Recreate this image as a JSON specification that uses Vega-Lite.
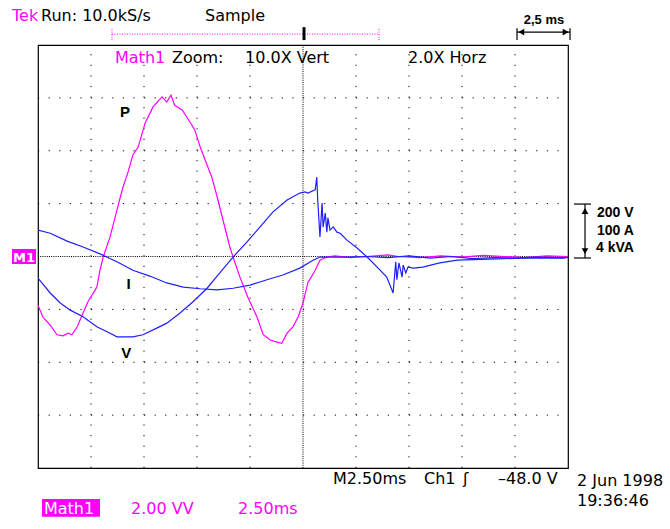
{
  "$schema": "https://vega.github.io/schema/vega-lite/v6.json",
  "width": 530,
  "height": 423,
  "autosize": {"type": "none"},
  "padding": {"left": 38, "top": 45, "right": 102, "bottom": 61},
  "background": "#ffffff",
  "config": {"view": {"stroke": "#000000", "strokeWidth": 1.2}},
  "datasets": {
    "traces": [
      {"series":"P","x":-5.0,"y":-0.92},{"series":"P","x":-4.91,"y":-1.14},{"series":"P","x":-4.77,"y":-1.30},{"series":"P","x":-4.64,"y":-1.48},{"series":"P","x":-4.53,"y":-1.50},{"series":"P","x":-4.43,"y":-1.45},{"series":"P","x":-4.36,"y":-1.48},{"series":"P","x":-4.26,"y":-1.33},{"series":"P","x":-4.15,"y":-1.07},{"series":"P","x":-4.06,"y":-0.86},{"series":"P","x":-3.89,"y":-0.58},{"series":"P","x":-3.83,"y":-0.26},{"series":"P","x":-3.77,"y":-0.01},{"series":"P","x":-3.64,"y":0.37},{"series":"P","x":-3.51,"y":0.88},{"series":"P","x":-3.40,"y":1.30},{"series":"P","x":-3.30,"y":1.60},{"series":"P","x":-3.21,"y":1.92},{"series":"P","x":-3.11,"y":2.07},{"series":"P","x":-2.98,"y":2.52},{"series":"P","x":-2.83,"y":2.83},{"series":"P","x":-2.66,"y":3.02},{"series":"P","x":-2.57,"y":2.92},{"series":"P","x":-2.49,"y":3.05},{"series":"P","x":-2.42,"y":2.86},{"series":"P","x":-2.28,"y":2.77},{"series":"P","x":-2.13,"y":2.54},{"series":"P","x":-2.04,"y":2.39},{"series":"P","x":-1.94,"y":2.07},{"series":"P","x":-1.81,"y":1.73},{"series":"P","x":-1.72,"y":1.50},{"series":"P","x":-1.62,"y":1.13},{"series":"P","x":-1.51,"y":0.69},{"series":"P","x":-1.38,"y":0.18},{"series":"P","x":-1.32,"y":-0.01},{"series":"P","x":-1.19,"y":-0.39},{"series":"P","x":-1.04,"y":-0.77},{"series":"P","x":-0.87,"y":-1.14},{"series":"P","x":-0.75,"y":-1.48},{"series":"P","x":-0.62,"y":-1.58},{"series":"P","x":-0.49,"y":-1.62},{"series":"P","x":-0.40,"y":-1.64},{"series":"P","x":-0.30,"y":-1.45},{"series":"P","x":-0.19,"y":-1.33},{"series":"P","x":-0.09,"y":-1.14},{"series":"P","x":0.0,"y":-0.88},{"series":"P","x":0.09,"y":-0.50},{"series":"P","x":0.23,"y":-0.26},{"series":"P","x":0.32,"y":-0.07},{"series":"P","x":0.45,"y":-0.01},{"series":"P","x":0.6,"y":0.01},{"series":"P","x":0.9,"y":-0.02},{"series":"P","x":1.2,"y":0.0},{"series":"P","x":1.6,"y":0.03},{"series":"P","x":1.8,"y":0.0},{"series":"P","x":2.2,"y":-0.02},{"series":"P","x":2.6,"y":0.01},{"series":"P","x":3.0,"y":-0.01},{"series":"P","x":3.4,"y":0.02},{"series":"P","x":3.8,"y":0.0},{"series":"P","x":4.2,"y":-0.02},{"series":"P","x":4.6,"y":0.01},{"series":"P","x":5.0,"y":0.0},
      {"series":"V","x":-5.0,"y":-0.41},{"series":"V","x":-4.77,"y":-0.69},{"series":"V","x":-4.58,"y":-0.88},{"series":"V","x":-4.40,"y":-1.01},{"series":"V","x":-4.15,"y":-1.14},{"series":"V","x":-3.89,"y":-1.33},{"series":"V","x":-3.64,"y":-1.45},{"series":"V","x":-3.51,"y":-1.52},{"series":"V","x":-3.21,"y":-1.52},{"series":"V","x":-3.02,"y":-1.48},{"series":"V","x":-2.75,"y":-1.35},{"series":"V","x":-2.57,"y":-1.26},{"series":"V","x":-2.32,"y":-1.07},{"series":"V","x":-2.08,"y":-0.86},{"series":"V","x":-1.81,"y":-0.60},{"series":"V","x":-1.57,"y":-0.31},{"series":"V","x":-1.32,"y":-0.01},{"series":"V","x":-1.06,"y":0.27},{"series":"V","x":-0.81,"y":0.56},{"series":"V","x":-0.57,"y":0.84},{"series":"V","x":-0.30,"y":1.07},{"series":"V","x":-0.06,"y":1.20},{"series":"V","x":0.04,"y":1.22},{"series":"V","x":0.09,"y":1.20},{"series":"V","x":0.23,"y":1.26},{"series":"V","x":0.26,"y":1.50},{"series":"V","x":0.28,"y":1.03},{"series":"V","x":0.32,"y":0.37},{"series":"V","x":0.36,"y":1.01},{"series":"V","x":0.38,"y":0.56},{"series":"V","x":0.42,"y":0.82},{"series":"V","x":0.45,"y":0.46},{"series":"V","x":0.47,"y":0.73},{"series":"V","x":0.51,"y":0.50},{"series":"V","x":0.57,"y":0.56},{"series":"V","x":0.64,"y":0.46},{"series":"V","x":0.70,"y":0.44},{"series":"V","x":0.83,"y":0.31},{"series":"V","x":1.02,"y":0.16},{"series":"V","x":1.21,"y":-0.01},{"series":"V","x":1.40,"y":-0.20},{"series":"V","x":1.58,"y":-0.39},{"series":"V","x":1.70,"y":-0.69},{"series":"V","x":1.75,"y":-0.10},{"series":"V","x":1.77,"y":-0.44},{"series":"V","x":1.81,"y":-0.12},{"series":"V","x":1.87,"y":-0.39},{"series":"V","x":1.89,"y":-0.16},{"series":"V","x":1.94,"y":-0.31},{"series":"V","x":1.98,"y":-0.20},{"series":"V","x":2.08,"y":-0.22},{"series":"V","x":2.26,"y":-0.20},{"series":"V","x":2.58,"y":-0.12},{"series":"V","x":2.91,"y":-0.07},{"series":"V","x":3.53,"y":-0.05},{"series":"V","x":4.15,"y":-0.03},{"series":"V","x":4.94,"y":-0.03},
      {"series":"I","x":-5.0,"y":0.50},{"series":"I","x":-4.77,"y":0.44},{"series":"I","x":-4.45,"y":0.29},{"series":"I","x":-4.15,"y":0.18},{"series":"I","x":-3.83,"y":0.05},{"series":"I","x":-3.51,"y":-0.10},{"series":"I","x":-3.21,"y":-0.26},{"series":"I","x":-2.89,"y":-0.37},{"series":"I","x":-2.57,"y":-0.50},{"series":"I","x":-2.26,"y":-0.58},{"series":"I","x":-1.94,"y":-0.61},{"series":"I","x":-1.62,"y":-0.63},{"series":"I","x":-1.32,"y":-0.60},{"series":"I","x":-1.0,"y":-0.54},{"series":"I","x":-0.68,"y":-0.44},{"series":"I","x":-0.38,"y":-0.35},{"series":"I","x":-0.06,"y":-0.22},{"series":"I","x":0.19,"y":-0.07},{"series":"I","x":0.32,"y":-0.01},{"series":"I","x":0.45,"y":-0.01},{"series":"I","x":0.8,"y":-0.01},{"series":"I","x":1.2,"y":0.0},{"series":"I","x":1.6,"y":-0.02},{"series":"I","x":2.0,"y":0.01},{"series":"I","x":2.4,"y":-0.03},{"series":"I","x":2.8,"y":0.0},{"series":"I","x":3.2,"y":-0.04},{"series":"I","x":3.6,"y":-0.02},{"series":"I","x":4.0,"y":-0.03},{"series":"I","x":4.4,"y":-0.01},{"series":"I","x":4.8,"y":-0.02},{"series":"I","x":5.0,"y":-0.02}
    ],
    "xminor": [{"x":-5},{"x":-4.8},{"x":-4.6},{"x":-4.4},{"x":-4.2},{"x":-4},{"x":-3.8},{"x":-3.6},{"x":-3.4},{"x":-3.2},{"x":-3},{"x":-2.8},{"x":-2.6},{"x":-2.4},{"x":-2.2},{"x":-2},{"x":-1.8},{"x":-1.6},{"x":-1.4},{"x":-1.2},{"x":-1},{"x":-0.8},{"x":-0.6},{"x":-0.4},{"x":-0.2},{"x":0},{"x":0.2},{"x":0.4},{"x":0.6},{"x":0.8},{"x":1},{"x":1.2},{"x":1.4},{"x":1.6},{"x":1.8},{"x":2},{"x":2.2},{"x":2.4},{"x":2.6},{"x":2.8},{"x":3},{"x":3.2},{"x":3.4},{"x":3.6},{"x":3.8},{"x":4},{"x":4.2},{"x":4.4},{"x":4.6},{"x":4.8},{"x":5}],
    "yminor": [{"y":-4},{"y":-3.8},{"y":-3.6},{"y":-3.4},{"y":-3.2},{"y":-3},{"y":-2.8},{"y":-2.6},{"y":-2.4},{"y":-2.2},{"y":-2},{"y":-1.8},{"y":-1.6},{"y":-1.4},{"y":-1.2},{"y":-1},{"y":-0.8},{"y":-0.6},{"y":-0.4},{"y":-0.2},{"y":0},{"y":0.2},{"y":0.4},{"y":0.6},{"y":0.8},{"y":1},{"y":1.2},{"y":1.4},{"y":1.6},{"y":1.8},{"y":2},{"y":2.2},{"y":2.4},{"y":2.6},{"y":2.8},{"y":3},{"y":3.2},{"y":3.4},{"y":3.6},{"y":3.8},{"y":4}]
  },
  "encoding": {
    "x": {"field": "x", "type": "quantitative", "scale": {"domain": [-5, 5], "nice": false, "zero": false}, "axis": null},
    "y": {"field": "y", "type": "quantitative", "scale": {"domain": [-4, 4], "nice": false, "zero": false}, "axis": null}
  },
  "layer": [
    {
      "data": {"values": [{"x":-4,"y":-4,"y2":4},{"x":-3,"y":-4,"y2":4},{"x":-2,"y":-4,"y2":4},{"x":-1,"y":-4,"y2":4},{"x":1,"y":-4,"y2":4},{"x":2,"y":-4,"y2":4},{"x":3,"y":-4,"y2":4},{"x":4,"y":-4,"y2":4}]},
      "mark": {"type": "rule", "color": "#000000", "strokeWidth": 1, "strokeDash": [1.2, 9.38]},
      "encoding": {"y2": {"field": "y2"}}
    },
    {
      "data": {"values": [{"y":-3,"x":-5,"x2":5},{"y":-2,"x":-5,"x2":5},{"y":-1,"x":-5,"x2":5},{"y":1,"x":-5,"x2":5},{"y":2,"x":-5,"x2":5},{"y":3,"x":-5,"x2":5}]},
      "mark": {"type": "rule", "color": "#000000", "strokeWidth": 1, "strokeDash": [1.2, 9.4]},
      "encoding": {"x2": {"field": "x2"}}
    },
    {
      "data": {"values": [{"x":0,"y":-4,"y2":4}]},
      "mark": {"type": "rule", "color": "#000000", "strokeWidth": 1, "strokeDash": [1, 1.2]},
      "encoding": {"y2": {"field": "y2"}}
    },
    {
      "data": {"values": [{"y":0,"x":-5,"x2":5}]},
      "mark": {"type": "rule", "color": "#000000", "strokeWidth": 1, "strokeDash": [1, 1.2]},
      "encoding": {"x2": {"field": "x2"}}
    },
    {
      "data": {"name": "xminor"},
      "mark": {"type": "tick", "orient": "vertical", "color": "#000000", "size": 7, "thickness": 1, "opacity": 1},
      "encoding": {"y": {"datum": 0, "type": "quantitative"}}
    },
    {
      "data": {"name": "yminor"},
      "mark": {"type": "tick", "orient": "horizontal", "color": "#000000", "size": 7, "thickness": 1, "opacity": 1},
      "encoding": {"x": {"datum": 0, "type": "quantitative"}}
    },
    {
      "data": {"name": "xminor"},
      "mark": {"type": "tick", "orient": "vertical", "color": "#000000", "size": 6, "thickness": 1, "opacity": 1, "clip": true},
      "encoding": {"y": {"datum": 4, "type": "quantitative"}}
    },
    {
      "data": {"name": "xminor"},
      "mark": {"type": "tick", "orient": "vertical", "color": "#000000", "size": 6, "thickness": 1, "opacity": 1, "clip": true},
      "encoding": {"y": {"datum": -4, "type": "quantitative"}}
    },
    {
      "data": {"name": "yminor"},
      "mark": {"type": "tick", "orient": "horizontal", "color": "#000000", "size": 6, "thickness": 1, "opacity": 1, "clip": true},
      "encoding": {"x": {"datum": -5, "type": "quantitative"}}
    },
    {
      "data": {"name": "yminor"},
      "mark": {"type": "tick", "orient": "horizontal", "color": "#000000", "size": 6, "thickness": 1, "opacity": 1, "clip": true},
      "encoding": {"x": {"datum": 5, "type": "quantitative"}}
    },
    {
      "data": {"name": "traces"},
      "mark": {"type": "line", "strokeWidth": 1.2, "clip": true},
      "encoding": {
        "color": {"field": "series", "type": "nominal", "scale": {"domain": ["V", "I", "P"], "range": ["#1f1fff", "#1f1fff", "#ff00ff"]}, "legend": null},
        "order": {"field": "x", "type": "quantitative"}
      }
    },
    {
      "data": {"values": [{"x":-4.925,"x2":-3.830,"y":-4.584,"y2":-4.924},{"x":-5.491,"x2":-5.038,"y":0.142,"y2":-0.142}]},
      "mark": {"type": "rect", "color": "#ff00ff"},
      "encoding": {"x2": {"field": "x2"}, "y2": {"field": "y2"}}
    },
    {
      "data": {"values": [{"x":4.038,"y":4.093,"y2":4.319},{"x":5.038,"y":4.093,"y2":4.319},{"x":5.321,"y":-0.028,"y2":0.992}]},
      "mark": {"type": "rule", "color": "#000000", "strokeWidth": 1.2},
      "encoding": {"y2": {"field": "y2"}}
    },
    {
      "data": {"values": [{"y":4.244,"x":4.038,"x2":5.038},{"y":0.992,"x":5.113,"x2":5.434},{"y":-0.028,"x":5.113,"x2":5.434}]},
      "mark": {"type": "rule", "color": "#000000", "strokeWidth": 1.2},
      "encoding": {"x2": {"field": "x2"}}
    },
    {
      "data": {"values": [{"y":4.206,"x":-3.604,"x2":1.434}]},
      "mark": {"type": "rule", "color": "#ff00ff", "strokeWidth": 1, "strokeDash": [1, 1.5]},
      "encoding": {"x2": {"field": "x2"}}
    },
    {
      "data": {"values": [{"x":-3.604,"y":4.093,"y2":4.319},{"x":1.434,"y":4.093,"y2":4.319}]},
      "mark": {"type": "rule", "color": "#ff00ff", "strokeWidth": 1, "strokeDash": [1, 1.5]},
      "encoding": {"y2": {"field": "y2"}}
    },
    {
      "data": {"values": [{"x":0.019,"y":4.093,"y2":4.338}]},
      "mark": {"type": "rule", "color": "#000000", "strokeWidth": 3},
      "encoding": {"y2": {"field": "y2"}}
    },
    {
      "data": {"values": [{"x":4.12,"y":4.244,"dir":"left"},{"x":4.955,"y":4.244,"dir":"right"},{"x":5.321,"y":0.86,"dir":"up"},{"x":5.321,"y":0.10,"dir":"down"}]},
      "mark": {"type": "point", "filled": true, "color": "#000000", "size": 45, "opacity": 1},
      "encoding": {"shape": {"field": "dir", "type": "nominal", "scale": {"domain": ["left", "right", "up", "down"], "range": ["triangle-left", "triangle-right", "triangle-up", "triangle-down"]}, "legend": null}}
    },
    {
      "data": {"values": [{"x":-4.943,"y":4.452,"text":"Run: 10.0kS/s"},{"x":-1.849,"y":4.452,"text":"Sample"},{"x":-2.472,"y":3.658,"text":"Zoom:"},{"x":-1.094,"y":3.658,"text":"10.0X Vert"},{"x":1.981,"y":3.658,"text":"2.0X Horz"},{"x":0.566,"y":-4.301,"text":"M2.50ms"},{"x":2.283,"y":-4.301,"text":"Ch1"},{"x":3.019,"y":-4.301,"text":"ʃ"},{"x":3.679,"y":-4.301,"text":"–48.0 V"},{"x":5.170,"y":-4.338,"text":"2 Jun 1998"},{"x":5.170,"y":-4.716,"text":"19:36:46"}]},
      "mark": {"type": "text", "font": "DejaVu Sans", "fontSize": 16, "color": "#000000", "align": "left", "baseline": "alphabetic"},
      "encoding": {"text": {"field": "text"}}
    },
    {
      "data": {"values": [{"x":-5.491,"y":4.452,"text":"Tek"},{"x":-3.547,"y":3.658,"text":"Math1"},{"x":-3.245,"y":-4.868,"text":"2.00 VV"},{"x":-1.226,"y":-4.868,"text":"2.50ms"}]},
      "mark": {"type": "text", "font": "DejaVu Sans", "fontSize": 16, "color": "#ff00ff", "align": "left", "baseline": "alphabetic"},
      "encoding": {"text": {"field": "text"}}
    },
    {
      "data": {"values": [{"x":-4.887,"y":-4.868,"text":"Math1"}]},
      "mark": {"type": "text", "font": "DejaVu Sans", "fontSize": 16, "color": "#ffffff", "align": "left", "baseline": "alphabetic"},
      "encoding": {"text": {"field": "text"}}
    },
    {
      "data": {"values": [{"x":-5.47,"y":-0.10,"text":"M1"}]},
      "mark": {"type": "text", "font": "DejaVu Sans", "fontSize": 13, "fontWeight": "bold", "color": "#ffffff", "align": "left", "baseline": "alphabetic"},
      "encoding": {"text": {"field": "text"}}
    },
    {
      "data": {"values": [{"x":-3.453,"y":2.637,"text":"P"},{"x":-3.33,"y":-0.614,"text":"I"},{"x":-3.43,"y":-1.919,"text":"V"}]},
      "mark": {"type": "text", "font": "Liberation Sans", "fontSize": 15, "fontWeight": "bold", "color": "#000000", "align": "left", "baseline": "alphabetic"},
      "encoding": {"text": {"field": "text"}}
    },
    {
      "data": {"values": [{"x":5.547,"y":0.747,"text":"200 V"},{"x":5.547,"y":0.406,"text":"100 A"},{"x":5.530,"y":0.085,"text":"4 kVA"}]},
      "mark": {"type": "text", "font": "Liberation Sans", "fontSize": 14, "fontWeight": "bold", "color": "#000000", "align": "left", "baseline": "alphabetic"},
      "encoding": {"text": {"field": "text"}}
    },
    {
      "data": {"values": [{"x":4.547,"y":4.395,"text":"2,5 ms"}]},
      "mark": {"type": "text", "font": "Liberation Sans", "fontSize": 13, "fontWeight": "bold", "color": "#000000", "align": "center", "baseline": "alphabetic"},
      "encoding": {"text": {"field": "text"}}
    }
  ]
}
